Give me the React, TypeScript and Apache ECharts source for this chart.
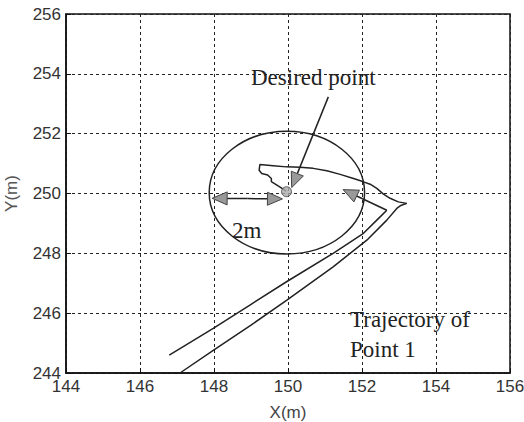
import React, { useEffect, useRef } from "react";
import * as echarts from "echarts";

const xTicks = [144, 146, 148, 150, 152, 154, 156];
const yTicks = [244, 246, 248, 250, 252, 254, 256];

// trajectory of point 1 (outgoing branch, lower-right line then return to desired point)
const trajectoryB: number[][] = [
  [147.08, 244.0], [147.98, 244.76], [149.0, 245.6], [149.96, 246.43], [151.22, 247.55],
  [152.13, 248.44], [152.67, 249.11], [152.94, 249.5], [153.05, 249.6], [153.21, 249.67],
  [152.98, 249.72], [152.76, 249.84], [152.58, 249.98], [152.4, 250.17], [152.22, 250.31],
  [152.04, 250.39], [151.77, 250.5], [151.41, 250.64], [151.05, 250.76], [150.68, 250.84],
  [150.32, 250.88], [149.96, 250.89], [149.6, 250.93], [149.24, 250.97], [149.22, 250.78],
  [149.29, 250.67], [149.45, 250.62], [149.55, 250.5], [149.55, 250.4], [149.7, 250.28],
  [149.85, 250.16], [149.95, 250.08],
];

// second trajectory branch (upper-left line)
const trajectoryA: number[][] = [
  [146.79, 244.6], [147.98, 245.49], [148.97, 246.27], [149.96, 247.05], [151.22, 248.0],
  [152.04, 248.67], [152.4, 249.11], [152.67, 249.44],
];

// annotation arrows: [fromX, fromY, tipX, tipY]
const arrows: number[][] = [
  [152.67, 249.44, 151.49, 250.13],
  [151.09, 253.23, 150.1, 250.2],
  [148.9, 249.83, 147.95, 249.84],
  [148.9, 249.83, 149.85, 249.82],
];

// tolerance circle: [centerX, centerY, radiusX, radiusY]
const toleranceCircle: number[][] = [[149.97, 250.03, 2.1, 2.05]];

const desiredPoint: number[][] = [[149.96, 250.06]];

export default function App() {
  const ref = useRef<HTMLDivElement>(null);
  useEffect(() => {
    if (!ref.current) return;
    const chart = echarts.init(ref.current, undefined, { renderer: "svg" });
    const tickFont = { color: "#333", fontFamily: "Liberation Sans", fontSize: 17 };
    chart.setOption({
      animation: false,
      backgroundColor: "#fff",
      grid: {
        left: 66, right: 14, top: 14, bottom: 49,
        outerBoundsMode: "none",
        show: true, borderColor: "#111", borderWidth: 1.5, backgroundColor: "transparent",
      },
      xAxis: {
        type: "value", min: xTicks[0], max: xTicks[xTicks.length - 1], interval: 2,
        name: "X(m)", nameLocation: "middle", nameGap: 31,
        nameTextStyle: { color: "#444", fontFamily: "Liberation Sans", fontSize: 17 },
        axisLine: { show: true, onZero: false, lineStyle: { color: "#111", width: 1.5 } },
        axisTick: { show: true, inside: true, length: 5, lineStyle: { color: "#111" } },
        axisLabel: { ...tickFont, margin: 5 },
        splitLine: { show: true, lineStyle: { color: "#222", width: 1, type: [3, 3] } },
      },
      yAxis: {
        type: "value", min: yTicks[0], max: yTicks[yTicks.length - 1], interval: 2,
        name: "Y(m)", nameLocation: "middle", nameGap: 46,
        nameTextStyle: { color: "#555", fontFamily: "Liberation Sans", fontSize: 17 },
        axisLine: { show: true, onZero: false, lineStyle: { color: "#111", width: 1.5 } },
        axisTick: { show: true, inside: true, length: 5, lineStyle: { color: "#111" } },
        axisLabel: { ...tickFont, margin: 5 },
        splitLine: { show: true, lineStyle: { color: "#222", width: 1, type: [3, 3] } },
      },
      series: [
        {
          type: "custom",
          data: toleranceCircle,
          silent: true,
          renderItem: (params: any, api: any) => {
            const c = api.coord([api.value(0), api.value(1)]);
            const s = api.size([api.value(2), api.value(3)]);
            return {
              type: "ellipse",
              shape: { cx: c[0], cy: c[1], rx: s[0], ry: s[1] },
              style: { fill: "none", stroke: "#222", lineWidth: 1.5 },
            };
          },
        },
        {
          type: "line", data: trajectoryB, showSymbol: false, symbol: "none",
          lineStyle: { color: "#222", width: 1.5 }, z: 3,
        },
        {
          type: "line", data: trajectoryA, showSymbol: false, symbol: "none",
          lineStyle: { color: "#222", width: 1.5 }, z: 3,
        },
        {
          type: "custom",
          data: arrows,
          z: 4,
          renderItem: (params: any, api: any) => {
            const p1 = api.coord([api.value(0), api.value(1)]);
            const p2 = api.coord([api.value(2), api.value(3)]);
            const dx = p2[0] - p1[0];
            const dy = p2[1] - p1[1];
            const len = Math.sqrt(dx * dx + dy * dy) || 1;
            const ux = dx / len, uy = dy / len;
            const L = 15, W = 6.5;
            const bx = p2[0] - ux * L, by = p2[1] - uy * L;
            return {
              type: "group",
              children: [
                {
                  type: "line",
                  shape: { x1: p1[0], y1: p1[1], x2: bx, y2: by },
                  style: { stroke: "#222", lineWidth: 1.5 },
                },
                {
                  type: "polygon",
                  shape: {
                    points: [
                      [p2[0], p2[1]],
                      [bx - uy * W, by + ux * W],
                      [bx + uy * W, by - ux * W],
                    ],
                  },
                  style: { fill: "#999", stroke: "#444", lineWidth: 1 },
                },
              ],
            };
          },
        },
        {
          type: "scatter", data: desiredPoint, symbol: "circle", symbolSize: 10, z: 5,
          itemStyle: { color: "#aaa", borderColor: "#444", borderWidth: 1 },
        },
      ],
      graphic: [
        {
          type: "text", x: 251, y: 77,
          style: { text: "Desired point", fill: "#222", font: '23px "Liberation Serif"', verticalAlign: "middle" },
        },
        {
          type: "text", x: 232, y: 230,
          style: { text: "2m", fill: "#222", font: '23px "Liberation Serif"', verticalAlign: "middle" },
        },
        {
          type: "text", x: 350, y: 319,
          style: { text: "Trajectory of", fill: "#222", font: '23px "Liberation Serif"', verticalAlign: "middle" },
        },
        {
          type: "text", x: 350, y: 349,
          style: { text: "Point 1", fill: "#222", font: '23px "Liberation Serif"', verticalAlign: "middle" },
        },
      ],
    });
    return () => chart.dispose();
  }, []);
  return <div ref={ref} style={{ width: 524, height: 422, position: "absolute", left: 0, top: 0 }} />;
}
